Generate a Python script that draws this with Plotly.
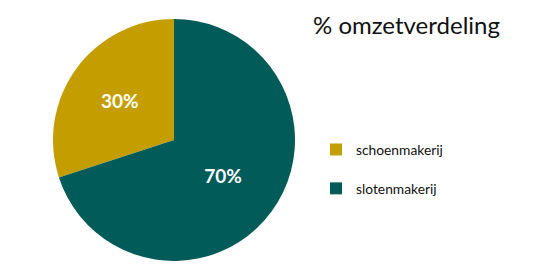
import plotly.graph_objects as go

categories = ["schoenmakerij", "slotenmakerij"]
values = [30, 70]
colors = ["#c49e00", "#005b59"]
title_text = "% omzetverdeling"

W, H = 533, 276
legend_labels = [c + "<br> " for c in categories]

fig = go.Figure(go.Pie(
    labels=legend_labels,
    values=values,
    marker=dict(colors=colors, line=dict(width=0)),
    sort=False,
    direction="clockwise",
    rotation=-108,
    textinfo="percent",
    texttemplate="%{percent:.0%}",
    textposition="inside",
    insidetextorientation="horizontal",
    textfont=dict(family="Lato", size=19, color="white", weight="bold"),
    domain=dict(x=[(174 - 121) / W, (174 + 121) / W], y=[(276 - 261) / H, (276 - 19) / H]),
    hoverinfo="none",
))

fig.update_layout(
    width=W, height=H,
    margin=dict(l=0, r=0, t=0, b=0),
    paper_bgcolor="white",
    showlegend=True,
    legend=dict(x=316 / W, y=1 - 134 / H, xanchor="left", yanchor="top",
                font=dict(family="Lato", size=13.8, color="#111"),
                valign="top", itemwidth=30, tracegroupgap=0),
    annotations=[dict(text=title_text, x=311 / W, y=1 - 25 / H, xref="paper", yref="paper",
                      xanchor="left", yanchor="middle", showarrow=False,
                      font=dict(family="Lato", size=24, color="#111"))],
)

fig.write_html("out.html")
